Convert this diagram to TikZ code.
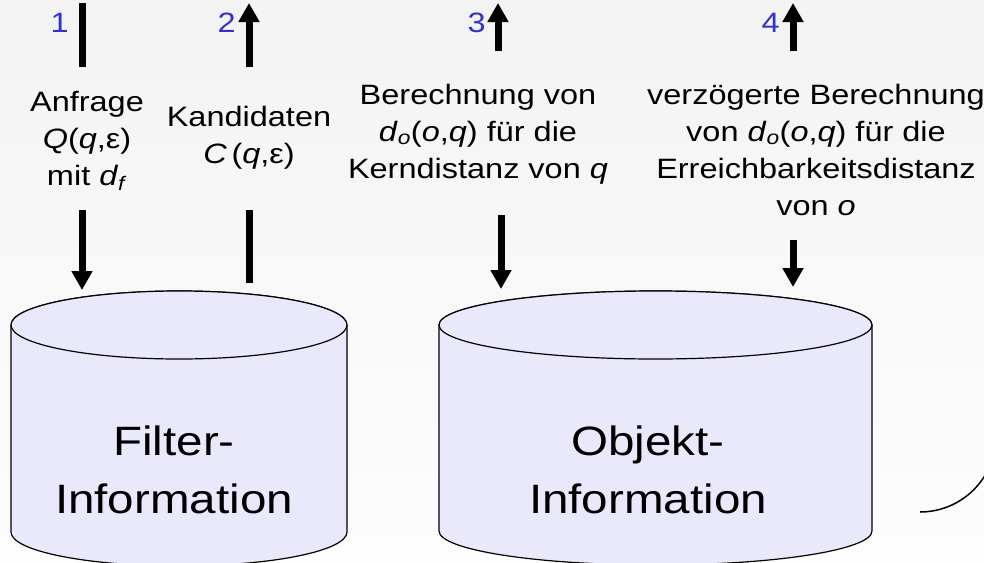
\documentclass[tikz,border=0pt]{standalone}
\usepackage{fontspec}
\setmainfont[FakeStretch=1.16]{Liberation Sans}
\usetikzlibrary{arrows.meta}

\definecolor{numblue}{RGB}{51,51,204}
\definecolor{dbfill}{RGB}{233,233,251}
\definecolor{bgtop}{RGB}{243,243,243}
\definecolor{bgbot}{RGB}{253,253,253}

\tikzset{
  lbl/.style={align=center, inner sep=0pt, anchor=base, font=\fontsize{28}{37}\selectfont},
  dblbl/.style={align=center, inner sep=0pt, anchor=base, font=\fontsize{41}{58}\selectfont},
  num/.style={inner sep=0pt, anchor=base east, text=numblue, font=\fontsize{28}{30}\selectfont},
  flow/.style={line width=7pt},
  flowhead/.style={line width=7pt, -{Triangle[width=20pt,length=19pt]}},
  dbcyl/.style={fill=dbfill, draw=black, line width=1.2pt}
}

\begin{document}
\begin{tikzpicture}[x=1pt,y=-1pt]

%% background
\useasboundingbox (0,0) rectangle (984,562);
\fill[top color=bgtop, bottom color=bgbot] (0,0) rectangle (984,562);

%% databases
\filldraw[dbcyl] (11,325) -- (11,532) arc[start angle=180, end angle=360, x radius=168pt, y radius=34pt]
  -- (347,325) arc[start angle=0, end angle=180, x radius=168pt, y radius=34pt] -- cycle;
\draw[dbcyl] (179,325) ellipse[x radius=168pt, y radius=34pt];   %% filter top

\filldraw[dbcyl] (439,325) -- (439,531) arc[start angle=180, end angle=360, x radius=216.5pt, y radius=34pt]
  -- (872,325) arc[start angle=0, end angle=180, x radius=216.5pt, y radius=34pt] -- cycle;
\draw[dbcyl] (655.5,325) ellipse[x radius=216.5pt, y radius=34pt];   %% objekt top

%% multi-line nodes sit on their last baseline
\node[dblbl] (filter) at (174,513) {Filter-\\Information};
\node[dblbl] (objekt) at (648,513) {Objekt-\\Information};

%% step labels
\node[lbl] (anfrage) at (87,185) {Anfrage\\\textit{Q}(\textit{q},ε)\\mit \textit{d}\textsubscript{\textit{f}}};
\node[lbl] (kand) at (249,163) {Kandidaten\\\textit{C}\,(\textit{q},ε)};
\node[lbl] (kern) at (478,178) {Berechnung von\\\textit{d}\textsubscript{\textit{o}}(\textit{o},\textit{q}) für die\\Kerndistanz von \textit{q}};
\node[lbl] (erreich) at (816,215) {verzögerte Berechnung\\von \textit{d}\textsubscript{\textit{o}}(\textit{o},\textit{q}) für die\\Erreichbarkeitsdistanz\\von \textit{o}};

%% step numbers
\node[num] (n1) at (69,32) {1};
\node[num] (n2) at (236,32) {2};
\node[num] (n3) at (486,32) {3};
\node[num] (n4) at (780,32) {4};

%% arrow ends
\coordinate (a1t) at (82,3);    \coordinate (a1m) at (82,67);
\coordinate (a1b) at (82,210);  \coordinate (a1e) at (82,290);
\coordinate (a2t) at (249,3);   \coordinate (a2m) at (249,67);
\coordinate (a2b) at (249,210); \coordinate (a2e) at (249,283);
\coordinate (a3t) at (498,3);   \coordinate (a3m) at (498,51);
\coordinate (a3b) at (501,215); \coordinate (a3e) at (501,289);
\coordinate (a4t) at (793,3);   \coordinate (a4m) at (793,51);
\coordinate (a4b) at (793,240); \coordinate (a4e) at (793,287);

%% arrows
\draw[flow] (a1t) -- (a1m);       %% 1 in
\draw[flowhead] (a1b) -- (a1e);
\draw[flowhead] (a2m) -- (a2t);   %% 2 out
\draw[flow] (a2b) -- (a2e);
\draw[flowhead] (a3m) -- (a3t);   %% 3
\draw[flowhead] (a3b) -- (a3e);
\draw[flowhead] (a4m) -- (a4t);   %% 4
\draw[flowhead] (a4b) -- (a4e);

%% cut-off curve
\coordinate (rc) at (920,512);
\draw[line width=1.5pt] (rc) arc[start angle=270, end angle=335, radius=76pt];

\end{tikzpicture}
\end{document}
